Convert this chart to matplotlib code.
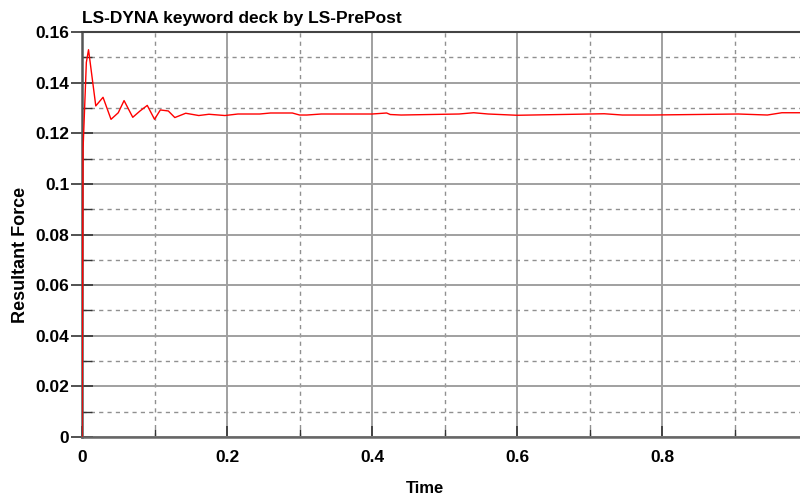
import matplotlib.pyplot as plt
from matplotlib.ticker import MultipleLocator, FormatStrFormatter

plt.rcParams['font.family'] = ['Liberation Sans', 'DejaVu Sans']
plt.rcParams['font.weight'] = 'bold'

# Resultant force history
time = [0.0, 0.0015, 0.006, 0.009, 0.019, 0.029, 0.040, 0.050, 0.058, 0.070,
        0.080, 0.090, 0.100, 0.108, 0.119, 0.128, 0.143, 0.161, 0.175, 0.197,
        0.215, 0.245, 0.260, 0.290, 0.300, 0.310, 0.330, 0.400, 0.420, 0.425,
        0.440, 0.520, 0.540, 0.560, 0.600, 0.720, 0.745, 0.785, 0.905, 0.945,
        0.965, 0.990]
force = [0.0, 0.114, 0.148, 0.153, 0.1308, 0.1342, 0.1255, 0.1281, 0.1329, 0.1263,
         0.1288, 0.1310, 0.1255, 0.1292, 0.1288, 0.1262, 0.1279, 0.1270, 0.1275, 0.1270,
         0.1276, 0.1276, 0.1280, 0.1280, 0.1272, 0.1272, 0.1276, 0.1276, 0.1280, 0.1274,
         0.1272, 0.1276, 0.1281, 0.1276, 0.1271, 0.1277, 0.1272, 0.1272, 0.1276, 0.1272,
         0.1281, 0.1281]

fig = plt.figure(figsize=(8, 4.99), dpi=100)
ax = fig.add_axes([0.1025, 0.1242, 0.8975, 0.8117])

ax.plot(time, force, color='#ff0000', linewidth=1.0, zorder=3)

ax.set_xlim(0, 0.99)
ax.set_ylim(0, 0.16)
ax.xaxis.set_major_locator(MultipleLocator(0.2))
ax.xaxis.set_minor_locator(MultipleLocator(0.1))
ax.yaxis.set_major_locator(MultipleLocator(0.02))
ax.yaxis.set_minor_locator(MultipleLocator(0.01))
ax.xaxis.set_major_formatter(FormatStrFormatter('%g'))
ax.yaxis.set_major_formatter(FormatStrFormatter('%g'))

ax.grid(True, which='major', color='#a0a0a0', linestyle='-', linewidth=1.4)
ax.grid(True, which='minor', color='#909090', linestyle=(0, (3, 3)), linewidth=1.0)
ax.set_axisbelow(True)

ax.tick_params(axis='y', which='major', direction='inout', length=16, width=1.2,
               color='#333333', labelsize=12.5, pad=1)
ax.tick_params(axis='y', which='minor', direction='in', length=7, width=1.0, color='#333333')
ax.tick_params(axis='x', which='major', direction='in', length=8, width=1.2,
               color='#333333', labelsize=12.5, pad=9)
ax.tick_params(axis='x', which='minor', direction='in', length=6, width=1.0, color='#333333')

ax.spines['right'].set_visible(False)
ax.spines['left'].set_color('#555555')
ax.spines['left'].set_linewidth(1.8)
ax.spines['bottom'].set_color('#666666')
ax.spines['bottom'].set_linewidth(1.8)
ax.spines['top'].set_color('#444444')
ax.spines['top'].set_linewidth(1.5)

ax.set_xlabel('Time', fontsize=12, fontweight='bold', va='center')
ax.xaxis.set_label_coords(0.478, -0.127)
ax.set_ylabel('Resultant Force', fontsize=13, fontweight='bold', va='center')
ax.yaxis.set_label_coords(-0.086, 0.449)
fig.text(0.1025, 0.963, 'LS-DYNA keyword deck by LS-PrePost', fontsize=12.5,
         fontweight='bold', ha='left', va='center')

fig.savefig('out.png', dpi=100)
